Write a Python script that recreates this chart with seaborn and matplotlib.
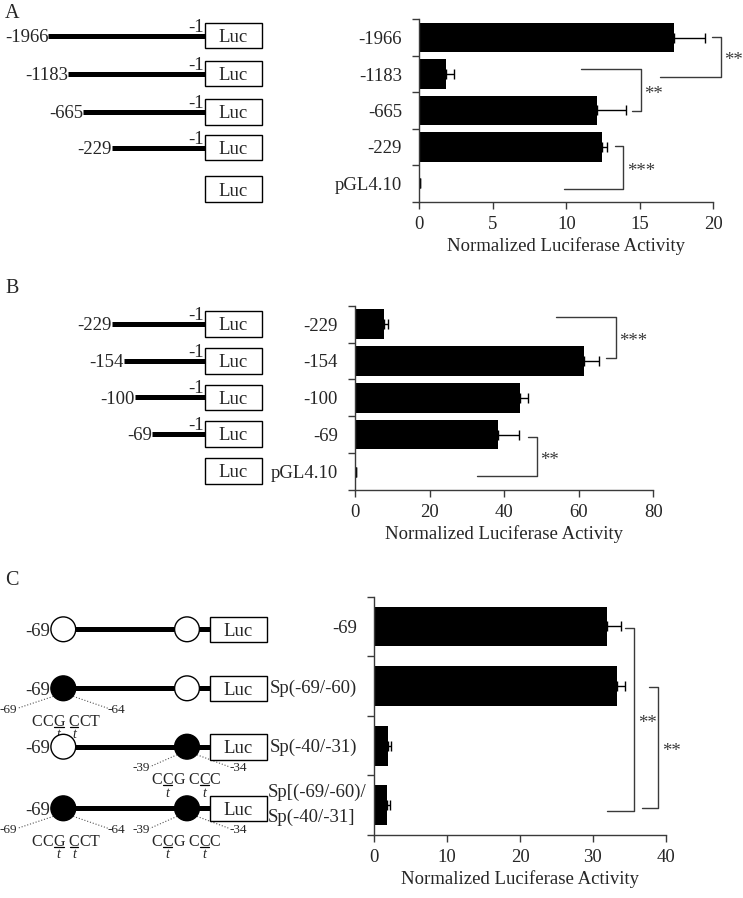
import numpy as np
import matplotlib
matplotlib.use('Agg')
import matplotlib.pyplot as plt
from matplotlib.patches import Rectangle, Circle
import seaborn as sns

# ---- values ----
a_labels = ['-1966', '-1183', '-665', '-229', 'pGL4.10']
a_means = [17.3, 1.85, 12.1, 12.45, 0.05]
a_err = [2.15, 0.5, 1.95, 0.35, 0.0]

b_labels = ['-229', '-154', '-100', '-69', 'pGL4.10']
b_means = [7.9, 61.5, 44.2, 38.4, 0.3]
b_err = [1.05, 4.0, 2.1, 5.6, 0.0]

c_labels = ['-69', 'Sp(-69/-60)', 'Sp(-40/-31)', 'Sp[(-69/-60)/\nSp(-40/-31]']
c_means = [31.9, 33.3, 1.9, 1.7]
c_err = [1.9, 1.1, 0.35, 0.45]

# significance brackets: (x top arm, y top, x bottom arm, y bottom, x vertical, stars)
a_sig = [(19.9, -0.02, 16.4, 1.07, 20.5, '**'),
         (11.0, 0.87, 14.48, 2.01, 15.06, '**'),
         (13.3, 2.97, 9.84, 4.16, 13.87, '***')]
b_sig = [(53.8, -0.2, 67.3, 0.93, 69.9, '***'),
         (46.3, 3.07, 32.6, 4.12, 48.7, '**')]
c_sig = [(34.4, 0.02, 32.0, 3.1, 35.7, '**'),
         (37.75, 1.01, 36.8, 3.04, 39.0, '**')]

# Sp1 site state per construct in C (True = mutated / filled)
c_site1 = [False, True, False, True]
c_site2 = [False, False, True, True]

sns.set_theme(style='ticks')
plt.rcParams['font.family'] = ['Liberation Serif', 'DejaVu Serif']
plt.rcParams['font.size'] = 13.5

AX_COLOR = '#3a3a3a'
W, H = 743, 898
fig = plt.figure(figsize=(W / 100, H / 100), dpi=100)


def px_axes(left, top, right, bottom):
    return fig.add_axes([left / W, 1 - bottom / H, (right - left) / W, (bottom - top) / H])


def bar_panel(ax, labels, means, errs, xmax, xstep, bar_h):
    n = len(labels)
    sns.barplot(x=means, y=labels, orient='h', color='black', saturation=1,
                width=bar_h, errorbar=None, ax=ax, linewidth=0)
    ax.errorbar(means, np.arange(n), xerr=[np.zeros(n), errs], fmt='none',
                ecolor='black', elinewidth=1, capsize=3.5, capthick=1)
    ax.set_xlim(0, xmax)
    ax.set_ylim(n - 0.5, -0.5)
    ax.set_xticks(np.arange(0, xmax + 1, xstep))
    ax.set_yticks(np.arange(-0.5, n, 1), minor=True)
    ax.tick_params(axis='y', which='major', length=0, pad=12.5, labelsize=13.5)
    ax.tick_params(axis='y', which='minor', length=5, width=1, color=AX_COLOR, direction='out')
    ax.tick_params(axis='x', length=5, width=1, color=AX_COLOR, pad=5, labelsize=13.5)
    ax.set_xlabel('Normalized Luciferase Activity', fontsize=13.5, labelpad=3)
    ax.set_ylabel('')
    sns.despine(ax=ax)
    for s in ('left', 'bottom'):
        ax.spines[s].set_color(AX_COLOR)
        ax.spines[s].set_linewidth(1)


def brackets(ax, sig):
    for x_top, y_top, x_bot, y_bot, x_v, stars in sig:
        ax.plot([x_top, x_v, x_v, x_bot], [y_top, y_top, y_bot, y_bot],
                color=AX_COLOR, lw=1, clip_on=False)
        ax.annotate(stars, xy=(x_v, (y_top + y_bot) / 2), xytext=(2.5, -3),
                    textcoords='offset points', ha='left', va='center',
                    fontsize=13.5, color=AX_COLOR, annotation_clip=False)


ax_a = px_axes(419.3, 19.3, 713.3, 201.7)
bar_panel(ax_a, a_labels, a_means, a_err, 20, 5, 0.8)
brackets(ax_a, a_sig)

ax_b = px_axes(355, 305.7, 653.3, 490)
bar_panel(ax_b, b_labels, b_means, b_err, 80, 20, 0.8)
brackets(ax_b, b_sig)

ax_c = px_axes(374.3, 596.7, 665.7, 835)
bar_panel(ax_c, c_labels, c_means, c_err, 40, 10, 0.67)
brackets(ax_c, c_sig)
# two-line label is left-aligned with the label above it, drawn separately below
ax_c.set_yticks(range(len(c_labels)), c_labels[:-1] + [''])

# ---- construct diagrams (pixel coordinates) ----
dg = fig.add_axes([0, 0, 1, 1])
dg.set_xlim(0, W)
dg.set_ylim(H, 0)
dg.axis('off')

BOX_X, BOX_W, BOX_H = 205, 56.7, 25.6
LW_THICK = 3.6


def luc_box(x, y):
    dg.add_patch(Rectangle((x, y - BOX_H / 2), BOX_W, BOX_H, fc='white', ec='black', lw=1, zorder=3))
    dg.text(x + BOX_W / 2, y, 'Luc', ha='center', va='center_baseline', fontsize=13.5, zorder=4)


def deletion_panel(rows_y, starts, labels, empty_y):
    for y, x0, lab in zip(rows_y, starts, labels):
        dg.plot([x0, BOX_X], [y, y], color='black', lw=LW_THICK, solid_capstyle='butt', zorder=2)
        dg.text(x0, y, lab, ha='right', va='center_baseline', fontsize=13.5)
        dg.text(BOX_X - 1, y - 4, '-1', ha='right', va='baseline', fontsize=13.5)
        luc_box(BOX_X, y)
    luc_box(BOX_X, empty_y)


deletion_panel([35.5, 73.7, 112, 147.5], [48.3, 68.3, 83.3, 111.7], a_labels[:4], 189)
deletion_panel([324, 360.7, 397.3, 434], [111.7, 124, 135, 152], b_labels[:4], 470.7)

CHAR_W = {'C': 0.667, 'G': 0.722, 'T': 0.611, ' ': 0.25}


def sequence(x_left, y, seq, marks, size=11.5):
    em = size * 100 / 72
    x = x_left
    for i, ch in enumerate(seq):
        w = CHAR_W[ch] * em
        if ch != ' ':
            dg.text(x + w / 2, y, ch, ha='center', va='center_baseline', fontsize=size)
        if i in marks:
            dg.plot([x + 1, x + w - 1], [y + 7, y + 7], color='black', lw=0.9)
            dg.text(x + w / 2, y + 13.5, 't', ha='center', va='center_baseline',
                    fontsize=10, style='italic')
        x += w


def site_note(cx, y, r, x_lab_l, x_lab_r, lab_l, lab_r, seq_x, seq, marks):
    ly = y + 20
    dg.plot([cx - r * 0.8, x_lab_l], [y + r * 0.65, ly], color='#555555', lw=0.8, ls=':')
    dg.plot([cx + r * 0.8, x_lab_r], [y + r * 0.65, ly], color='#555555', lw=0.8, ls=':')
    dg.text(x_lab_l, ly, lab_l, ha='right', va='center_baseline', fontsize=9.5)
    dg.text(x_lab_r, ly, lab_r, ha='left', va='center_baseline', fontsize=9.5)
    sequence(seq_x, y + 31.5, seq, marks)


C1, C2, R = 63.3, 187, 12.4
C_BOX_X = 210
c_rows = [629.3, 688.3, 746.7, 808.3]
for y, f1, f2 in zip(c_rows, c_site1, c_site2):
    dg.plot([C1, C_BOX_X], [y, y], color='black', lw=LW_THICK, solid_capstyle='butt', zorder=2)
    for cx, filled in ((C1, f1), (C2, f2)):
        dg.add_patch(Circle((cx, y), R, fc='black' if filled else 'white', ec='black', lw=1, zorder=3))
    dg.text(C1 - R - 0.5, y, '-69', ha='right', va='center_baseline', fontsize=13.5)
    luc_box(C_BOX_X, y)
    if f1:
        site_note(C1, y, R, 17.5, 108, '-69', '-64', 31.7, 'CCG CCT', [2, 4])
    if f2:
        site_note(C2, y, R, 150, 229, '-39', '-34', 151.7, 'CCG CCC', [1, 5])

dg.text(268, 805, c_labels[-1], ha='left', va='center', fontsize=13.5, linespacing=1.6)

for lab, y in (('A', 11), ('B', 286), ('C', 578)):
    dg.text(5, y, lab, ha='left', va='center_baseline', fontsize=14.5)

fig.savefig('out.png', dpi=100)
